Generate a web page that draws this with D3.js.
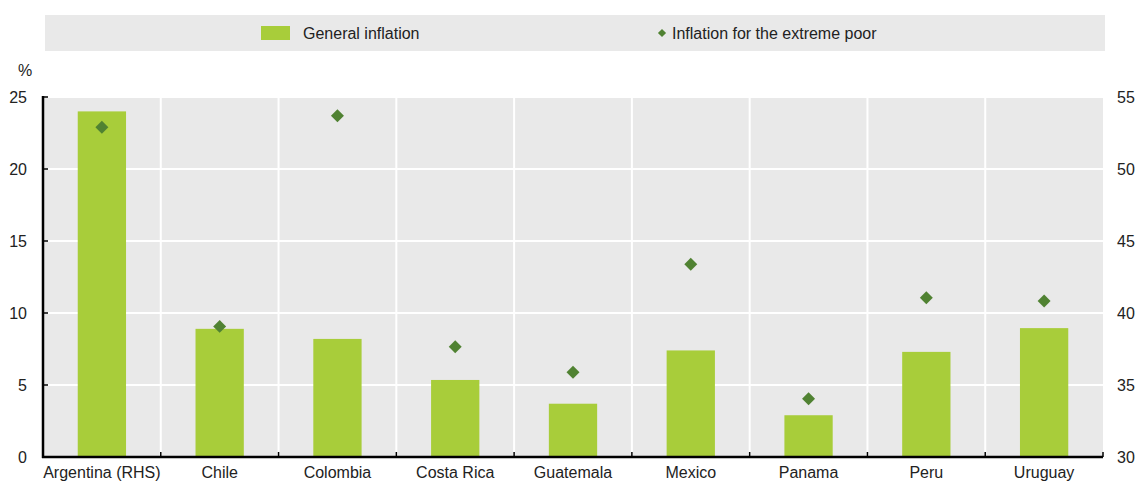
<!DOCTYPE html>
<html><head><meta charset="utf-8">
<script src="https://cdn.jsdelivr.net/npm/d3@7/dist/d3.min.js"></script>
<style>
body{margin:0;background:#fff;}
text{font-family:"Liberation Sans Narrow","Arial Narrow","Liberation Sans",Arial,sans-serif;fill:#222;}
</style></head>
<body><svg id="c" width="1139" height="481"></svg>
<script>
const categories = ["Argentina (RHS)","Chile","Colombia","Costa Rica","Guatemala","Mexico","Panama","Peru","Uruguay"];
const generalInflation = [54.0, 8.9, 8.2, 5.35, 3.7, 7.4, 2.9, 7.3, 8.95];
const extremePoorInflation = [52.9, 9.07, 23.7, 7.66, 5.88, 13.38, 4.05, 11.06, 10.83];
const onRight = [true,false,false,false,false,false,false,false,false];
const leftTicks = [0,5,10,15,20,25];
const rightTicks = [30,35,40,45,50,55];
const seriesNames = ["General inflation","Inflation for the extreme poor"];

const svg = d3.select("#c");
const m={l:43,r:1103,t:97,b:457};
const barColor="#a8cd3a", dotColor="#508232", bg="#e9e9e9";

const x = d3.scaleBand().domain(categories).range([m.l,m.r]).paddingInner(0).paddingOuter(0);
const yL = d3.scaleLinear().domain([0,25]).range([m.b,m.t]);
const yR = d3.scaleLinear().domain([30,55]).range([m.b,m.t]);

// legend
svg.append("rect").attr("x",45).attr("y",15).attr("width",1060).attr("height",36).attr("fill",bg);
svg.append("rect").attr("x",261).attr("y",26).attr("width",29).attr("height",14).attr("fill",barColor);
svg.append("text").attr("x",303).attr("y",38.5).attr("font-size",16).text(seriesNames[0]);
svg.append("path").attr("d",d3.symbol(d3.symbolSquare,34)()).attr("transform","translate(662,33) rotate(45)").attr("fill",dotColor);
svg.append("text").attr("x",672).attr("y",38.5).attr("font-size",16).text(seriesNames[1]);

// plot bg
svg.append("rect").attr("x",m.l).attr("y",m.t).attr("width",m.r-m.l).attr("height",m.b-m.t).attr("fill",bg);
svg.append("g").selectAll("line").data(leftTicks.slice(1)).join("line")
  .attr("x1",m.l).attr("x2",m.r).attr("y1",d=>yL(d)).attr("y2",d=>yL(d))
  .attr("stroke","#fff").attr("stroke-width",2);
svg.append("g").selectAll("line").data(categories.slice(1)).join("line")
  .attr("x1",d=>x(d)).attr("x2",d=>x(d)).attr("y1",m.t).attr("y2",m.b)
  .attr("stroke","#fff").attr("stroke-width",2);

const bw = x.bandwidth()*0.41;
const yOf = (v,i)=> onRight[i]?yR(v):yL(v);
svg.append("g").selectAll("rect").data(generalInflation).join("rect")
  .attr("x",(d,i)=>x(categories[i])+x.bandwidth()/2-bw/2)
  .attr("width",bw)
  .attr("y",(d,i)=>yOf(d,i))
  .attr("height",(d,i)=>m.b-yOf(d,i))
  .attr("fill",barColor);

svg.append("g").selectAll("path").data(extremePoorInflation).join("path")
  .attr("d",d3.symbol(d3.symbolSquare,84)())
  .attr("transform",(d,i)=>`translate(${x(categories[i])+x.bandwidth()/2},${yOf(d,i)}) rotate(45)`)
  .attr("fill",dotColor);

// left axis
const gl = svg.append("g").attr("transform",`translate(${m.l},0)`);
gl.append("line").attr("x1",0).attr("x2",0).attr("y1",m.t-1).attr("y2",m.b+1).attr("stroke","#000").attr("stroke-width",2.5);
gl.selectAll("line.t").data(leftTicks).join("line").attr("class","t")
  .attr("x1",0).attr("x2",5).attr("y1",d=>yL(d)).attr("y2",d=>yL(d)).attr("stroke","#000").attr("stroke-width",1.5);
gl.selectAll("text").data(leftTicks).join("text")
  .attr("x",-16).attr("y",d=>yL(d)).attr("dy","0.35em").attr("text-anchor","end").attr("font-size",16).text(d=>d);
svg.append("text").attr("x",18).attr("y",76).attr("font-size",16).text("%");

svg.append("g").selectAll("text").data(rightTicks).join("text")
  .attr("x",1117).attr("y",d=>yR(d)).attr("dy","0.35em").attr("font-size",16).text(d=>d);

// bottom axis
svg.append("line").attr("x1",m.l-1).attr("x2",m.r).attr("y1",m.b).attr("y2",m.b).attr("stroke","#000").attr("stroke-width",2.5);
svg.append("g").selectAll("line").data(categories.slice(1).map(c=>x(c)).concat([m.r])).join("line")
  .attr("x1",d=>d).attr("x2",d=>d).attr("y1",m.b).attr("y2",m.b-5).attr("stroke","#000").attr("stroke-width",1.5);
svg.append("g").selectAll("text").data(categories).join("text")
  .attr("x",d=>x(d)+x.bandwidth()/2).attr("y",m.b+21).attr("text-anchor","middle").attr("font-size",16).text(d=>d);
</script></body></html>
